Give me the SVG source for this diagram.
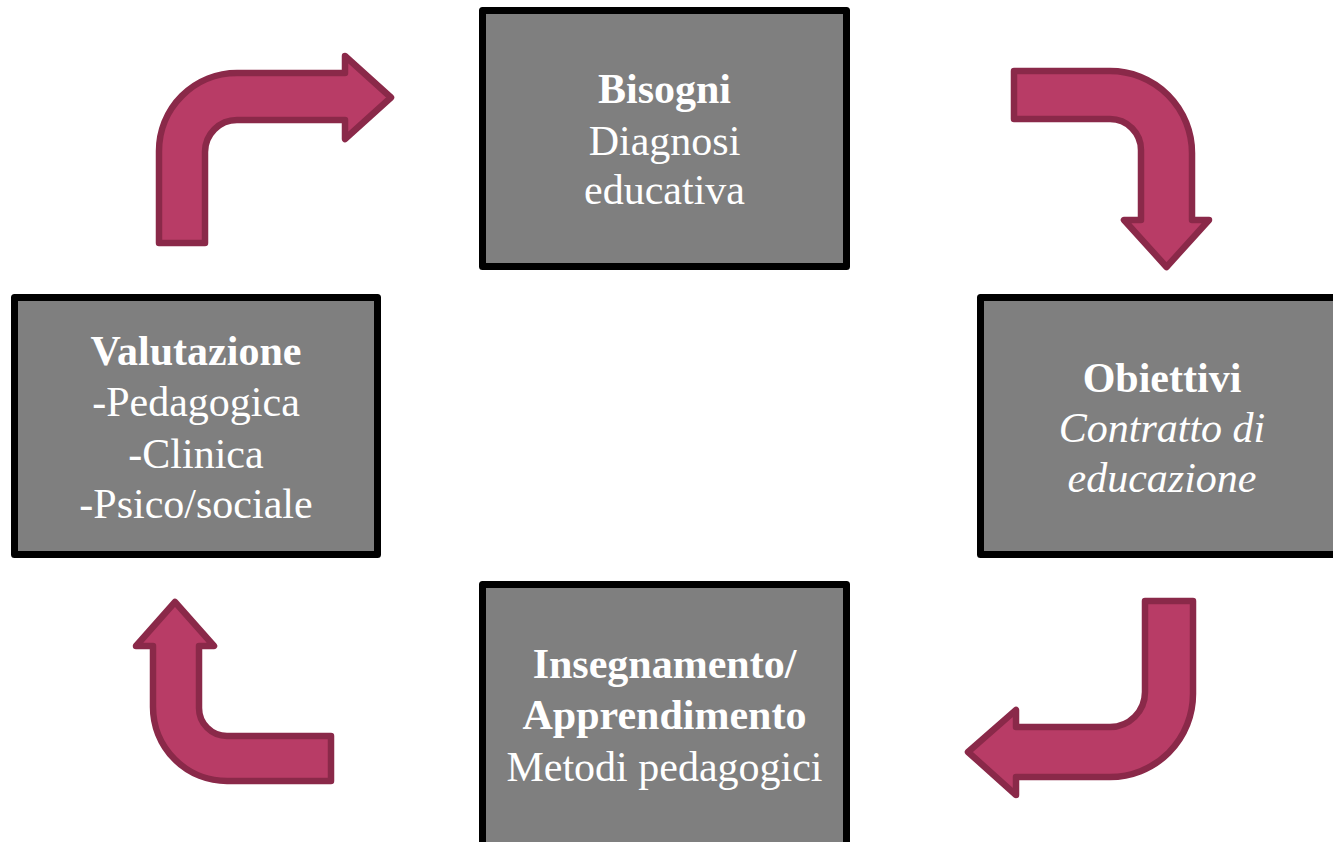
<svg xmlns="http://www.w3.org/2000/svg" width="1333" height="842" viewBox="0 0 1333 842">
<style>
.box{fill:#7f7f7f;stroke:#000;stroke-width:7;stroke-linejoin:round}
.arr{fill:#b83c66;stroke:#8a2949;stroke-width:6.5;stroke-linejoin:round}
text{font-family:"Liberation Serif","Times New Roman",serif;font-size:42px;fill:#fff;text-anchor:middle}
.b{font-weight:bold}
.i{font-style:italic}
</style>
<rect width="1333" height="842" fill="#fff"/>
<g id="connectors">
<path class="arr" d="M159,243 L159,151 A78,78 0 0 1 237,73 L345,73 L345,56 L391,97.5 L345,139 L345,120 L237,120 A32,32 0 0 0 205,152 L205,243 Z"/>
<path class="arr" d="M1014,71 L1110,71 A82,82 0 0 1 1192,153 L1192,220 L1209,220 L1166.5,267 L1124,220 L1141,220 L1141,150 A31,31 0 0 0 1110,119 L1014,119 Z"/>
<path class="arr" d="M1145,601 L1193,601 L1193,694 A83,83 0 0 1 1110,777 L1016,777 L1016,795 L968,752 L1016,710 L1016,727 L1110,727 A35,35 0 0 0 1145,692 Z"/>
<path class="arr" d="M175,602 L214,646 L199,646 L199,708 A28,28 0 0 0 227,736 L331,736 L331,781 L227,781 A74,74 0 0 1 153,707 L153,646 L136,646 Z"/>
</g>
<g id="bisogni">
<rect class="box" x="482.5" y="10.5" width="364" height="256"/>
<text x="664.5" y="103" class="b">Bisogni</text>
<text x="664.5" y="155">Diagnosi</text>
<text x="664.5" y="204">educativa</text>
</g>
<g id="obiettivi">
<rect class="box" x="980.5" y="297.5" width="364" height="257"/>
<text x="1162" y="392" class="b">Obiettivi</text>
<text x="1162" y="442" class="i">Contratto di</text>
<text x="1162" y="492" class="i">educazione</text>
</g>
<g id="insegnamento">
<rect class="box" x="482.5" y="584.5" width="364" height="270"/>
<text x="664.5" y="678" class="b">Insegnamento/</text>
<text x="664.5" y="729" class="b">Apprendimento</text>
<text x="664.5" y="781">Metodi pedagogici</text>
</g>
<g id="valutazione">
<rect class="box" x="14.5" y="297.5" width="363" height="257"/>
<text x="196" y="365" class="b">Valutazione</text>
<text x="196" y="416">-Pedagogica</text>
<text x="196" y="468">-Clinica</text>
<text x="196" y="518">-Psico/sociale</text>
</g>
</svg>
